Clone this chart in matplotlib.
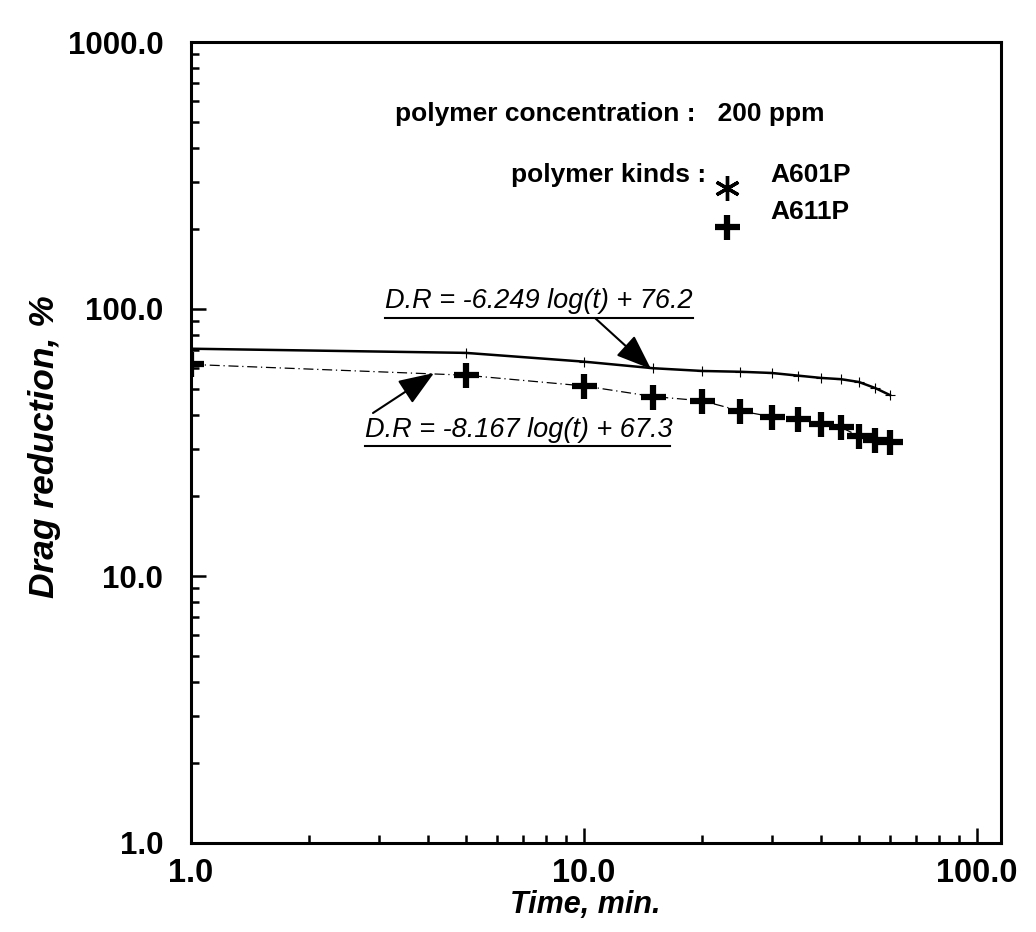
import matplotlib
matplotlib.use("Agg")
import matplotlib.pyplot as plt
from matplotlib.ticker import LogLocator, FormatStrFormatter, NullFormatter
from matplotlib.lines import Line2D

plt.rcParams['font.family'] = ['Liberation Sans', 'DejaVu Sans']

# ---- data ----
time_min = [1, 5, 10, 15, 20, 25, 30, 35, 40, 45, 50, 55, 60]
dr_a601p = [71.0, 68.5, 63.5, 60.0, 58.6, 58.2, 57.6, 56.3, 55.2, 54.6, 53.3, 50.6, 47.6]
dr_a611p = [62.0, 56.5, 51.5, 47.0, 45.3, 41.5, 39.5, 38.7, 37.1, 36.1, 33.4, 32.3, 31.8]
series_names = ["A601P", "A611P"]
eq_a601p = "D.R = -6.249 log(t) + 76.2"
eq_a611p = "D.R = -8.167 log(t) + 67.3"
x_ticks = [1, 10, 100]
y_ticks = [1, 10, 100, 1000]

W, H = 1036, 932
fig = plt.figure(figsize=(W / 100, H / 100), dpi=100)
fig.patch.set_facecolor('white')

def fx(px):
    return px / W

def fy(py):
    return 1 - py / H

left, right, top, bottom = 191, 1001, 42, 843
ax = fig.add_axes([fx(left), fy(bottom), fx(right) - fx(left), fy(top) - fy(bottom)])
ax.set_xscale('log')
ax.set_yscale('log')
ax.set_xlim(1, 115)
ax.set_ylim(1, 1000)

for s in ax.spines.values():
    s.set_linewidth(2.2)

ax.xaxis.set_major_locator(LogLocator(base=10, numticks=10))
ax.yaxis.set_major_locator(LogLocator(base=10, numticks=10))
ax.xaxis.set_minor_locator(LogLocator(base=10, subs=range(2, 10), numticks=20))
ax.yaxis.set_minor_locator(LogLocator(base=10, subs=range(2, 10), numticks=20))
ax.xaxis.set_major_formatter(FormatStrFormatter('%.1f'))
ax.yaxis.set_major_formatter(FormatStrFormatter('%.1f'))
ax.xaxis.set_minor_formatter(NullFormatter())
ax.yaxis.set_minor_formatter(NullFormatter())
ax.set_xticks(x_ticks)
ax.set_yticks(y_ticks)

ax.tick_params(which='both', direction='in', top=False, right=False, width=1.8)
ax.tick_params(which='major', length=11)
ax.tick_params(which='minor', length=6)
ax.tick_params(axis='y', which='major', pad=20, labelsize=22.5)
ax.tick_params(axis='x', which='major', pad=11, labelsize=23.5)
for lab in ax.get_xticklabels() + ax.get_yticklabels():
    lab.set_fontweight('bold')

# ---- series ----
ax.plot(time_min, dr_a601p, color='black', lw=1.8, marker='+', ms=7, mew=0.8,
        zorder=3)
ax.plot(time_min, dr_a611p, color='black', lw=0.9, ls=(0, (8, 3, 1, 3)),
        marker='+', ms=18, mew=4.5, zorder=3)

# ---- axis labels ----
fig.text(fx(585), fy(905), "Time, min.", ha='center', va='center',
         fontsize=22, fontweight='bold', fontstyle='italic')
fig.text(fx(45), fy(447), "Drag reduction, %", ha='center', va='center',
         rotation=90, fontsize=25.5, fontweight='bold', fontstyle='italic')

# ---- info text / legend ----
fs_info = 19
fig.text(fx(395), fy(121), "polymer concentration :   200 ppm", ha='left',
         va='baseline', fontsize=fs_info, fontweight='bold')
fig.text(fx(706), fy(182), "polymer kinds :", ha='right', va='baseline',
         fontsize=fs_info, fontweight='bold')
fig.text(fx(770), fy(182), series_names[0], ha='left', va='baseline',
         fontsize=fs_info, fontweight='bold')
fig.text(fx(770), fy(219), series_names[1], ha='left', va='baseline',
         fontsize=fs_info, fontweight='bold')
fig.add_artist(Line2D([fx(727)], [fy(188)], marker=(6, 2, 0), ms=18, mew=2.4,
                      color='black', transform=fig.transFigure))
fig.add_artist(Line2D([fx(727)], [fy(227)], marker='+', ms=18, mew=4.5,
                      color='black', transform=fig.transFigure))

# ---- equations with underlines and arrows ----
fs_eq = 19.5
fig.text(fx(385), fy(308), eq_a601p, ha='left', va='baseline',
         fontsize=fs_eq, fontstyle='italic')
fig.add_artist(Line2D([fx(385), fx(693)], [fy(318), fy(318)], lw=1.5,
                      color='black', transform=fig.transFigure))
fig.text(fx(365), fy(437), eq_a611p, ha='left', va='baseline',
         fontsize=fs_eq, fontstyle='italic')
fig.add_artist(Line2D([fx(365), fx(670)], [fy(446), fy(446)], lw=1.5,
                      color='black', transform=fig.transFigure))

arrow_style = dict(arrowstyle='-|>,head_length=1.1,head_width=0.42',
                   mutation_scale=20, color='black', lw=1.5,
                   shrinkA=0, shrinkB=0)
ax.annotate('', xy=(fx(651), fy(369)), xycoords='figure fraction',
            xytext=(fx(595), fy(318)), textcoords='figure fraction',
            arrowprops=arrow_style)
ax.annotate('', xy=(fx(434), fy(373)), xycoords='figure fraction',
            xytext=(fx(373), fy(413)), textcoords='figure fraction',
            arrowprops=arrow_style)

fig.savefig('out.png', dpi=100, facecolor='white')
